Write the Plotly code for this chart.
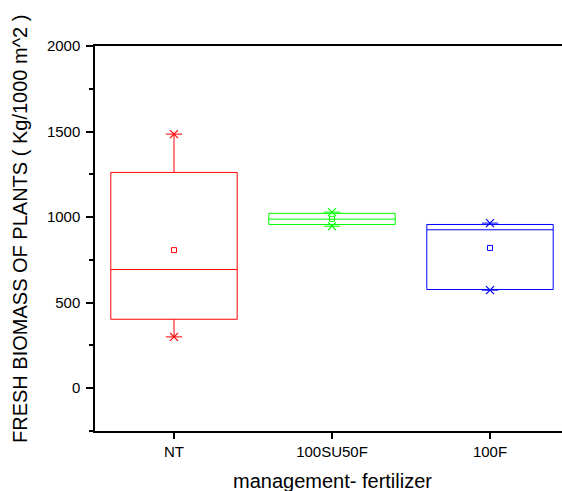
import plotly.graph_objects as go

categories = ["NT", "100SU50F", "100F"]
colors = ["#FF0000", "#00FF00", "#0000FF"]
q1 = [403, 957, 577]
median = [694, 988, 926]
q3 = [1261, 1022, 957]
mean = [807, 990, 820]
vmin = [300, 947, 573]
vmax = [1485, 1029, 965]

fig = go.Figure()
for i, c in enumerate(categories):
    fig.add_trace(go.Box(
        x=[c], q1=[q1[i]], median=[median[i]], q3=[q3[i]],
        lowerfence=[vmin[i]], upperfence=[vmax[i]],
        width=0.8, whiskerwidth=0.13,
        line=dict(color=colors[i], width=1),
        fillcolor="rgba(0,0,0,0)", boxpoints=False, showlegend=False,
    ))
    fig.add_trace(go.Scatter(
        x=[c], y=[mean[i]], mode="markers", showlegend=False,
        marker=dict(symbol="square-open", size=5, color=colors[i], line=dict(width=1, color=colors[i])),
    ))
    fig.add_trace(go.Scatter(
        x=[c, c], y=[vmin[i], vmax[i]], mode="markers", showlegend=False,
        marker=dict(symbol="x-thin", size=8, color=colors[i], line=dict(width=1.2, color=colors[i])),
    ))

fig.update_layout(
    width=562, height=491,
    margin=dict(l=95, r=0, t=46, b=60),
    plot_bgcolor="white", paper_bgcolor="white",
    boxmode="overlay",
    font=dict(family="Liberation Sans, Arial, sans-serif", color="black", size=15),
    showlegend=False,
)
fig.update_xaxes(
    type="category", categoryorder="array", categoryarray=categories,
    range=[-0.5, -0.5 + 467 / 158],
    showline=True, linecolor="black", linewidth=1.5, mirror=True,
    ticks="outside", ticklen=6, tickwidth=1.5, tickcolor="black",
    showgrid=False, zeroline=False, tickfont=dict(size=15),
)
fig.update_yaxes(
    range=[-250, 2000], tickmode="linear", tick0=0, dtick=500,
    showline=True, linecolor="black", linewidth=1.5,
    ticks="outside", ticklen=7, tickwidth=1.5, tickcolor="black",
    minor=dict(ticks="outside", ticklen=4, tickwidth=1.5, tickcolor="black", dtick=250, tick0=0),
    showgrid=False, zeroline=False, tickfont=dict(size=15), ticklabelstandoff=3,
)
fig.add_annotation(
    text="FRESH BIOMASS OF PLANTS ( Kg/1000 m^2 )", textangle=-90,
    xref="paper", yref="paper", x=(20 - 95) / 467, y=(431 - 229) / 385,
    xanchor="center", yanchor="middle", showarrow=False, font=dict(size=20),
)
fig.add_annotation(
    text="management- fertilizer",
    xref="paper", yref="paper", x=(332 - 95) / 467, y=(431 - 481) / 385,
    xanchor="center", yanchor="middle", showarrow=False, font=dict(size=20),
)
fig.write_html("out.html")
